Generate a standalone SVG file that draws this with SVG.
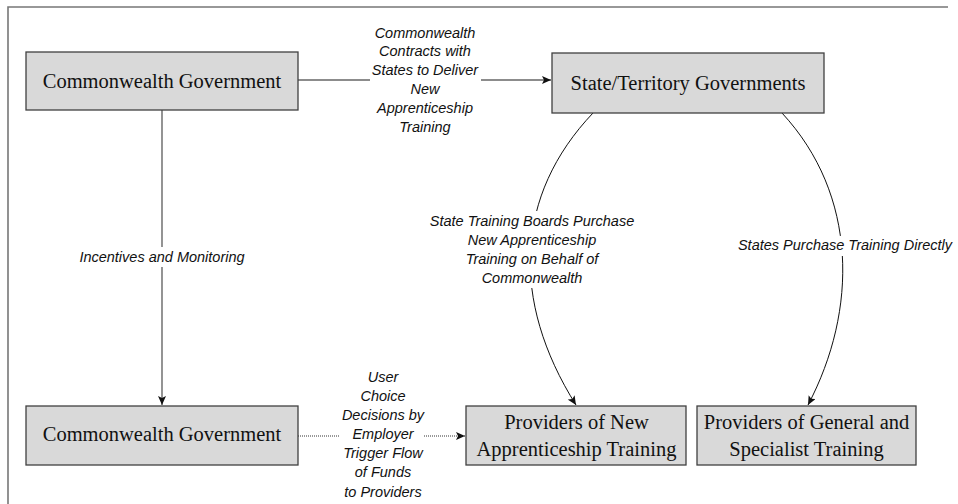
<svg xmlns="http://www.w3.org/2000/svg" width="958" height="504" viewBox="0 0 958 504">
<style>
.box{fill:#d9d9d9;stroke:#404040;stroke-width:1.3}
.bt{font-family:"Liberation Serif","Times New Roman",serif;font-size:20.5px;fill:#111;text-anchor:middle}
.lb{font-family:"Liberation Sans",Arial,sans-serif;font-size:14.5px;font-style:italic;fill:#111;text-anchor:middle}
.ln{fill:none;stroke:#666;stroke-width:1.4}
.cv{fill:none;stroke:#111;stroke-width:1}
.dt{fill:none;stroke:#333;stroke-width:1;stroke-dasharray:1,1}
.frame{fill:none;stroke:#777;stroke-width:1.6}
.halo{fill:#fff}
</style>
<defs>
<marker id="ah" markerWidth="10" markerHeight="8" refX="9" refY="4" orient="auto" markerUnits="userSpaceOnUse">
<path d="M0,0 L9,4 L0,8 L2,4 Z" fill="#111"/>
</marker>
</defs>
<rect width="958" height="504" fill="#fff"/>
<path class="frame" d="M8,504 L8,7 L948,7"/>
<g id="connectors">
<line class="ln" x1="298" y1="80" x2="551" y2="80" marker-end="url(#ah)"/>
<line class="ln" x1="162" y1="110" x2="162" y2="405" marker-end="url(#ah)"/>
<path class="cv" d="M593,113 C515,195 510,300 576,405" marker-end="url(#ah)"/>
<path class="cv" d="M782,113 C858,195 858,310 808,405" marker-end="url(#ah)"/>
<line class="dt" x1="298" y1="436" x2="465" y2="436" marker-end="url(#ah)"/>
<g id="labels">
<rect class="halo" x="370" y="24" width="111" height="112"/>
<text class="lb" x="425" y="37.5">Commonwealth</text>
<text class="lb" x="425" y="56.4">Contracts with</text>
<text class="lb" x="425" y="75.3">States to Deliver</text>
<text class="lb" x="425" y="94.2">New</text>
<text class="lb" x="425" y="113.1">Apprenticeship</text>
<text class="lb" x="425" y="132">Training</text>
<rect class="halo" x="76" y="247" width="173" height="20"/>
<text class="lb" x="162" y="262">Incentives and Monitoring</text>
<rect class="halo" x="426" y="211" width="212" height="77"/>
<text class="lb" x="532" y="226">State Training Boards Purchase</text>
<text class="lb" x="532" y="245">New Apprenticeship</text>
<text class="lb" x="532" y="264">Training on Behalf of</text>
<text class="lb" x="532" y="283">Commonwealth</text>
<rect class="halo" x="735" y="236" width="220" height="20"/>
<text class="lb" x="845" y="250">States Purchase Training Directly</text>
<rect class="halo" x="340" y="368" width="84" height="134"/>
<text class="lb" x="383" y="381.7">User</text>
<text class="lb" x="383" y="400.5">Choice</text>
<text class="lb" x="383" y="419.8">Decisions by</text>
<text class="lb" x="383" y="439">Employer</text>
<text class="lb" x="383" y="458.3">Trigger Flow</text>
<text class="lb" x="383" y="477.4">of Funds</text>
<text class="lb" x="383" y="496.7">to Providers</text>
</g>
</g>
<g id="cg-top">
<rect class="box" x="26" y="52" width="272" height="58"/>
<text class="bt" x="162" y="87.5">Commonwealth Government</text>
</g>
<g id="states">
<rect class="box" x="552" y="53" width="272" height="60"/>
<text class="bt" x="688" y="90">State/Territory Governments</text>
</g>
<g id="cg-bottom">
<rect class="box" x="26" y="406" width="272" height="59"/>
<text class="bt" x="162" y="441">Commonwealth Government</text>
</g>
<g id="providers-new">
<rect class="box" x="466" y="406" width="220" height="59"/>
<text class="bt" x="576.5" y="428.5">Providers of New</text>
<text class="bt" x="576.5" y="455.5">Apprenticeship Training</text>
</g>
<g id="providers-general">
<rect class="box" x="697" y="406" width="219" height="59"/>
<text class="bt" x="806.5" y="428.5">Providers of General and</text>
<text class="bt" x="806.5" y="455.5">Specialist Training</text>
</g>
</svg>
